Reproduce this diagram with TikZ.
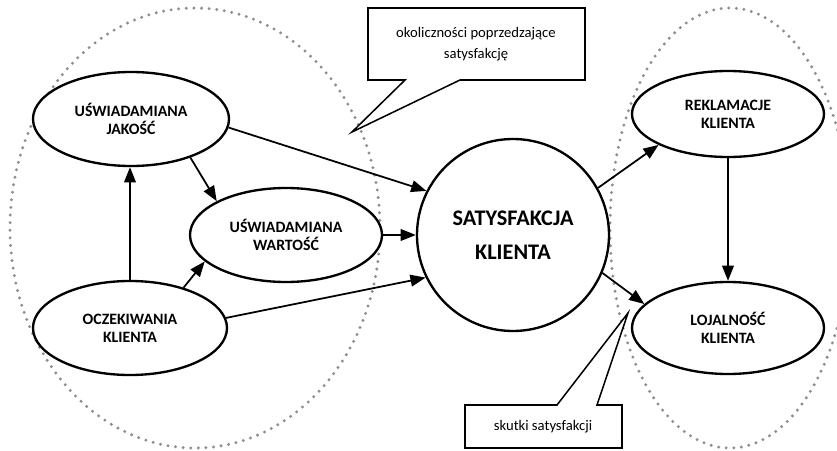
\documentclass[tikz,border=0pt]{standalone}
\usepackage{fontspec}
\setmainfont{Carlito}
\usetikzlibrary{positioning,arrows.meta,shapes.geometric}
\definecolor{cInk}{HTML}{000000}
\definecolor{cDots}{HTML}{8E8E8E}
\tikzset{
  blob/.style={ellipse, draw=cInk, fill=white, line width=2pt, align=center,
               inner sep=0pt, font=\bfseries\fontsize{13.5}{15.5}\selectfont},
  core/.style={circle, draw=cInk, fill=white, line width=2pt, align=center,
               inner sep=0pt, minimum size=5.76cm, font=\bfseries\fontsize{19}{29}\selectfont},
  zone/.style={draw=cDots, line width=2.8pt, line cap=round, dash pattern=on 0pt off 6.5pt},
  ar/.style={-{Triangle[length=13pt,width=10pt]}, line width=1.5pt, cInk},
  callout/.style={draw=cInk, fill=white, line width=1.3pt, line join=miter},
  note/.style={align=center, inner sep=0pt, font=\fontsize{12.5}{18}\selectfont},
}

\begin{document}
\begin{tikzpicture}[x=0.03cm, y=-0.03cm]
    \useasboundingbox (0,0) rectangle (837,451);

    % groups: antecedents and consequences
    \draw[zone] (195,228) ellipse [x radius=5.55cm, y radius=6.6cm];
    \draw[zone] (730,228) ellipse [x radius=3.6cm, y radius=6.6cm];

    \node[blob, minimum width=5.88cm, minimum height=2.82cm] (jak) at (131,119) {UŚWIADAMIANA\\JAKOŚĆ};
    \node[blob, minimum width=5.76cm, minimum height=2.82cm] (war) at (286,235) {UŚWIADAMIANA\\WARTOŚĆ};
    \node[blob, minimum width=5.82cm, minimum height=2.82cm] (ocz) at (130,328) {OCZEKIWANIA\\KLIENTA};
    \node[core] (sat) at (513,235) {SATYSFAKCJA\\KLIENTA};
    \node[blob, minimum width=5.76cm, minimum height=2.58cm] (rek) at (728,114) {REKLAMACJE\\KLIENTA};
    \node[blob, minimum width=5.76cm, minimum height=2.76cm] (loj) at (728,328) {LOJALNOŚĆ\\KLIENTA};

    \draw[ar] (jak.-5) -- (sat.153);
    \draw[ar] (jak.-33) -- (war.154);
    \draw[ar] (ocz.north) -- (ocz.north |- jak.south);
    \draw[ar] (ocz.37) -- (war.198);
    \draw[ar] (war.east) -- (sat.west);
    \draw[ar] (ocz.6) -- (sat.206);
    \draw[ar] (sat.29) -- (rek.204);
    \draw[ar] (sat.-23) -- (loj.164);
    \draw[ar] (rek.south) -- (loj.north);

    % speech bubbles
    \draw[callout] (368,8) -- (585,8) -- (585,80) -- (460,80) -- (352,132) -- (405,80) -- (368,80) -- cycle;
    \node[note] (pre) at (476,44) {okoliczności poprzedzające\\satysfakcję};
    \draw[callout] (465,405) -- (557,405) -- (628,313) -- (597,405) -- (622,405) -- (622,448) -- (465,448) -- cycle;
    \node[note] (post) at (543,427) {skutki satysfakcji};
\end{tikzpicture}
\end{document}
